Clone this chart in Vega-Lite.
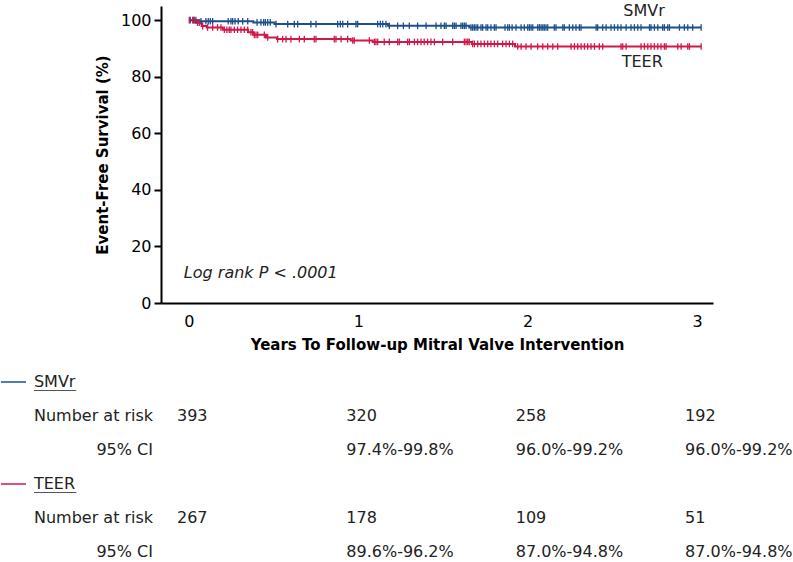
{
"$schema":"https://vega.github.io/schema/vega-lite/v6.json",
"background":"white",
"padding":{"left":0,"top":3,"right":0,"bottom":0},
"spacing":22,
"config":{"view":{"stroke":null},"font":"DejaVu Sans"},
"datasets":{
"km":[
{"g":"SMVr","t":0,"s":100,"c":0},{"g":"SMVr","t":0.06,"s":99.6,"c":0},{"g":"SMVr","t":0.38,"s":99.2,"c":0},{"g":"SMVr","t":0.505,"s":98.6,"c":0},{"g":"SMVr","t":1.175,"s":98.0,"c":0},{"g":"SMVr","t":1.655,"s":97.4,"c":0},
{"g":"SMVr","t":0.008,"s":100,"c":1},{"g":"SMVr","t":0.028,"s":100,"c":1},{"g":"SMVr","t":0.041,"s":100,"c":1},
{"g":"SMVr","t":0.071,"s":99.6,"c":1},{"g":"SMVr","t":0.1,"s":99.6,"c":1},{"g":"SMVr","t":0.114,"s":99.6,"c":1},{"g":"SMVr","t":0.126,"s":99.6,"c":1},{"g":"SMVr","t":0.14,"s":99.6,"c":1},{"g":"SMVr","t":0.232,"s":99.6,"c":1},{"g":"SMVr","t":0.248,"s":99.6,"c":1},{"g":"SMVr","t":0.258,"s":99.6,"c":1},{"g":"SMVr","t":0.272,"s":99.6,"c":1},{"g":"SMVr","t":0.291,"s":99.6,"c":1},{"g":"SMVr","t":0.317,"s":99.6,"c":1},{"g":"SMVr","t":0.347,"s":99.6,"c":1},
{"g":"SMVr","t":0.402,"s":99.2,"c":1},{"g":"SMVr","t":0.425,"s":99.2,"c":1},{"g":"SMVr","t":0.441,"s":99.2,"c":1},{"g":"SMVr","t":0.451,"s":99.2,"c":1},{"g":"SMVr","t":0.465,"s":99.2,"c":1},{"g":"SMVr","t":0.48,"s":99.2,"c":1},
{"g":"SMVr","t":0.514,"s":98.6,"c":1},{"g":"SMVr","t":0.583,"s":98.6,"c":1},{"g":"SMVr","t":0.622,"s":98.6,"c":1},{"g":"SMVr","t":0.642,"s":98.6,"c":1},{"g":"SMVr","t":0.72,"s":98.6,"c":1},{"g":"SMVr","t":0.75,"s":98.6,"c":1},{"g":"SMVr","t":0.878,"s":98.6,"c":1},{"g":"SMVr","t":0.894,"s":98.6,"c":1},{"g":"SMVr","t":0.908,"s":98.6,"c":1},{"g":"SMVr","t":0.937,"s":98.6,"c":1},{"g":"SMVr","t":0.986,"s":98.6,"c":1},{"g":"SMVr","t":0.996,"s":98.6,"c":1},{"g":"SMVr","t":1.114,"s":98.6,"c":1},{"g":"SMVr","t":1.13,"s":98.6,"c":1},{"g":"SMVr","t":1.144,"s":98.6,"c":1},{"g":"SMVr","t":1.163,"s":98.6,"c":1},
{"g":"SMVr","t":1.183,"s":98.0,"c":1},{"g":"SMVr","t":1.232,"s":98.0,"c":1},{"g":"SMVr","t":1.266,"s":98.0,"c":1},{"g":"SMVr","t":1.301,"s":98.0,"c":1},{"g":"SMVr","t":1.35,"s":98.0,"c":1},{"g":"SMVr","t":1.4,"s":98.0,"c":1},{"g":"SMVr","t":1.459,"s":98.0,"c":1},{"g":"SMVr","t":1.488,"s":98.0,"c":1},{"g":"SMVr","t":1.508,"s":98.0,"c":1},{"g":"SMVr","t":1.518,"s":98.0,"c":1},{"g":"SMVr","t":1.557,"s":98.0,"c":1},{"g":"SMVr","t":1.567,"s":98.0,"c":1},{"g":"SMVr","t":1.577,"s":98.0,"c":1},{"g":"SMVr","t":1.606,"s":98.0,"c":1},{"g":"SMVr","t":1.616,"s":98.0,"c":1},{"g":"SMVr","t":1.626,"s":98.0,"c":1},{"g":"SMVr","t":1.636,"s":98.0,"c":1},
{"g":"SMVr","t":1.665,"s":97.4,"c":1},{"g":"SMVr","t":1.675,"s":97.4,"c":1},{"g":"SMVr","t":1.685,"s":97.4,"c":1},{"g":"SMVr","t":1.695,"s":97.4,"c":1},{"g":"SMVr","t":1.705,"s":97.4,"c":1},{"g":"SMVr","t":1.724,"s":97.4,"c":1},{"g":"SMVr","t":1.734,"s":97.4,"c":1},{"g":"SMVr","t":1.754,"s":97.4,"c":1},{"g":"SMVr","t":1.764,"s":97.4,"c":1},{"g":"SMVr","t":1.783,"s":97.4,"c":1},{"g":"SMVr","t":1.803,"s":97.4,"c":1},{"g":"SMVr","t":1.813,"s":97.4,"c":1},{"g":"SMVr","t":1.866,"s":97.4,"c":1},{"g":"SMVr","t":1.882,"s":97.4,"c":1},{"g":"SMVr","t":1.892,"s":97.4,"c":1},{"g":"SMVr","t":1.908,"s":97.4,"c":1},{"g":"SMVr","t":1.931,"s":97.4,"c":1},{"g":"SMVr","t":1.961,"s":97.4,"c":1},{"g":"SMVr","t":1.98,"s":97.4,"c":1},{"g":"SMVr","t":2.0,"s":97.4,"c":1},{"g":"SMVr","t":2.01,"s":97.4,"c":1},{"g":"SMVr","t":2.02,"s":97.4,"c":1},{"g":"SMVr","t":2.03,"s":97.4,"c":1},{"g":"SMVr","t":2.059,"s":97.4,"c":1},{"g":"SMVr","t":2.069,"s":97.4,"c":1},{"g":"SMVr","t":2.079,"s":97.4,"c":1},{"g":"SMVr","t":2.089,"s":97.4,"c":1},{"g":"SMVr","t":2.098,"s":97.4,"c":1},{"g":"SMVr","t":2.108,"s":97.4,"c":1},{"g":"SMVr","t":2.118,"s":97.4,"c":1},{"g":"SMVr","t":2.157,"s":97.4,"c":1},{"g":"SMVr","t":2.167,"s":97.4,"c":1},{"g":"SMVr","t":2.207,"s":97.4,"c":1},{"g":"SMVr","t":2.216,"s":97.4,"c":1},{"g":"SMVr","t":2.246,"s":97.4,"c":1},{"g":"SMVr","t":2.266,"s":97.4,"c":1},{"g":"SMVr","t":2.285,"s":97.4,"c":1},{"g":"SMVr","t":2.305,"s":97.4,"c":1},{"g":"SMVr","t":2.315,"s":97.4,"c":1},{"g":"SMVr","t":2.404,"s":97.4,"c":1},{"g":"SMVr","t":2.413,"s":97.4,"c":1},{"g":"SMVr","t":2.443,"s":97.4,"c":1},{"g":"SMVr","t":2.463,"s":97.4,"c":1},{"g":"SMVr","t":2.492,"s":97.4,"c":1},{"g":"SMVr","t":2.512,"s":97.4,"c":1},{"g":"SMVr","t":2.532,"s":97.4,"c":1},{"g":"SMVr","t":2.551,"s":97.4,"c":1},{"g":"SMVr","t":2.581,"s":97.4,"c":1},{"g":"SMVr","t":2.61,"s":97.4,"c":1},{"g":"SMVr","t":2.63,"s":97.4,"c":1},{"g":"SMVr","t":2.65,"s":97.4,"c":1},{"g":"SMVr","t":2.669,"s":97.4,"c":1},{"g":"SMVr","t":2.719,"s":97.4,"c":1},{"g":"SMVr","t":2.728,"s":97.4,"c":1},{"g":"SMVr","t":2.748,"s":97.4,"c":1},{"g":"SMVr","t":2.768,"s":97.4,"c":1},{"g":"SMVr","t":2.797,"s":97.4,"c":1},{"g":"SMVr","t":2.807,"s":97.4,"c":1},{"g":"SMVr","t":2.827,"s":97.4,"c":1},{"g":"SMVr","t":2.837,"s":97.4,"c":1},{"g":"SMVr","t":2.896,"s":97.4,"c":1},{"g":"SMVr","t":2.925,"s":97.4,"c":1},{"g":"SMVr","t":2.945,"s":97.4,"c":1},{"g":"SMVr","t":2.974,"s":97.4,"c":1},{"g":"SMVr","t":3.024,"s":97.4,"c":1},
{"g":"TEER","t":0,"s":100,"c":0},{"g":"TEER","t":0.04,"s":99.1,"c":0},{"g":"TEER","t":0.075,"s":97.9,"c":0},{"g":"TEER","t":0.105,"s":97.4,"c":0},{"g":"TEER","t":0.2,"s":96.6,"c":0},{"g":"TEER","t":0.35,"s":95.7,"c":0},{"g":"TEER","t":0.38,"s":94.8,"c":0},{"g":"TEER","t":0.455,"s":93.9,"c":0},{"g":"TEER","t":0.52,"s":93.3,"c":0},{"g":"TEER","t":0.955,"s":92.8,"c":0},{"g":"TEER","t":1.085,"s":92.3,"c":0},{"g":"TEER","t":1.67,"s":91.6,"c":0},{"g":"TEER","t":1.925,"s":90.7,"c":0},
{"g":"TEER","t":0.002,"s":100,"c":1},{"g":"TEER","t":0.022,"s":100,"c":1},{"g":"TEER","t":0.031,"s":100,"c":1},
{"g":"TEER","t":0.051,"s":99.1,"c":1},{"g":"TEER","t":0.061,"s":99.1,"c":1},
{"g":"TEER","t":0.081,"s":97.9,"c":1},
{"g":"TEER","t":0.11,"s":97.4,"c":1},{"g":"TEER","t":0.14,"s":97.4,"c":1},{"g":"TEER","t":0.169,"s":97.4,"c":1},{"g":"TEER","t":0.189,"s":97.4,"c":1},
{"g":"TEER","t":0.209,"s":96.6,"c":1},{"g":"TEER","t":0.224,"s":96.6,"c":1},{"g":"TEER","t":0.238,"s":96.6,"c":1},{"g":"TEER","t":0.248,"s":96.6,"c":1},{"g":"TEER","t":0.268,"s":96.6,"c":1},{"g":"TEER","t":0.287,"s":96.6,"c":1},{"g":"TEER","t":0.307,"s":96.6,"c":1},{"g":"TEER","t":0.327,"s":96.6,"c":1},{"g":"TEER","t":0.347,"s":96.6,"c":1},
{"g":"TEER","t":0.366,"s":95.7,"c":1},{"g":"TEER","t":0.376,"s":95.7,"c":1},
{"g":"TEER","t":0.386,"s":94.8,"c":1},{"g":"TEER","t":0.396,"s":94.8,"c":1},{"g":"TEER","t":0.406,"s":94.8,"c":1},{"g":"TEER","t":0.445,"s":94.8,"c":1},
{"g":"TEER","t":0.465,"s":93.9,"c":1},
{"g":"TEER","t":0.524,"s":93.3,"c":1},{"g":"TEER","t":0.553,"s":93.3,"c":1},{"g":"TEER","t":0.573,"s":93.3,"c":1},{"g":"TEER","t":0.602,"s":93.3,"c":1},{"g":"TEER","t":0.652,"s":93.3,"c":1},{"g":"TEER","t":0.681,"s":93.3,"c":1},{"g":"TEER","t":0.74,"s":93.3,"c":1},{"g":"TEER","t":0.75,"s":93.3,"c":1},{"g":"TEER","t":0.858,"s":93.3,"c":1},{"g":"TEER","t":0.868,"s":93.3,"c":1},{"g":"TEER","t":0.898,"s":93.3,"c":1},{"g":"TEER","t":0.937,"s":93.3,"c":1},
{"g":"TEER","t":0.967,"s":92.8,"c":1},{"g":"TEER","t":0.976,"s":92.8,"c":1},{"g":"TEER","t":1.065,"s":92.8,"c":1},
{"g":"TEER","t":1.095,"s":92.3,"c":1},{"g":"TEER","t":1.104,"s":92.3,"c":1},{"g":"TEER","t":1.114,"s":92.3,"c":1},{"g":"TEER","t":1.153,"s":92.3,"c":1},{"g":"TEER","t":1.183,"s":92.3,"c":1},{"g":"TEER","t":1.232,"s":92.3,"c":1},{"g":"TEER","t":1.242,"s":92.3,"c":1},{"g":"TEER","t":1.291,"s":92.3,"c":1},{"g":"TEER","t":1.301,"s":92.3,"c":1},{"g":"TEER","t":1.331,"s":92.3,"c":1},{"g":"TEER","t":1.35,"s":92.3,"c":1},{"g":"TEER","t":1.37,"s":92.3,"c":1},{"g":"TEER","t":1.389,"s":92.3,"c":1},{"g":"TEER","t":1.409,"s":92.3,"c":1},{"g":"TEER","t":1.429,"s":92.3,"c":1},{"g":"TEER","t":1.449,"s":92.3,"c":1},{"g":"TEER","t":1.498,"s":92.3,"c":1},{"g":"TEER","t":1.557,"s":92.3,"c":1},{"g":"TEER","t":1.626,"s":92.3,"c":1},{"g":"TEER","t":1.636,"s":92.3,"c":1},{"g":"TEER","t":1.646,"s":92.3,"c":1},{"g":"TEER","t":1.655,"s":92.3,"c":1},
{"g":"TEER","t":1.675,"s":91.6,"c":1},{"g":"TEER","t":1.685,"s":91.6,"c":1},{"g":"TEER","t":1.705,"s":91.6,"c":1},{"g":"TEER","t":1.724,"s":91.6,"c":1},{"g":"TEER","t":1.744,"s":91.6,"c":1},{"g":"TEER","t":1.764,"s":91.6,"c":1},{"g":"TEER","t":1.783,"s":91.6,"c":1},{"g":"TEER","t":1.803,"s":91.6,"c":1},{"g":"TEER","t":1.823,"s":91.6,"c":1},{"g":"TEER","t":1.852,"s":91.6,"c":1},{"g":"TEER","t":1.872,"s":91.6,"c":1},{"g":"TEER","t":1.892,"s":91.6,"c":1},{"g":"TEER","t":1.911,"s":91.6,"c":1},
{"g":"TEER","t":1.941,"s":90.7,"c":1},{"g":"TEER","t":1.961,"s":90.7,"c":1},{"g":"TEER","t":1.99,"s":90.7,"c":1},{"g":"TEER","t":2.02,"s":90.7,"c":1},{"g":"TEER","t":2.059,"s":90.7,"c":1},{"g":"TEER","t":2.089,"s":90.7,"c":1},{"g":"TEER","t":2.118,"s":90.7,"c":1},{"g":"TEER","t":2.148,"s":90.7,"c":1},{"g":"TEER","t":2.177,"s":90.7,"c":1},{"g":"TEER","t":2.256,"s":90.7,"c":1},{"g":"TEER","t":2.276,"s":90.7,"c":1},{"g":"TEER","t":2.295,"s":90.7,"c":1},{"g":"TEER","t":2.315,"s":90.7,"c":1},{"g":"TEER","t":2.335,"s":90.7,"c":1},{"g":"TEER","t":2.354,"s":90.7,"c":1},{"g":"TEER","t":2.374,"s":90.7,"c":1},{"g":"TEER","t":2.394,"s":90.7,"c":1},{"g":"TEER","t":2.423,"s":90.7,"c":1},{"g":"TEER","t":2.443,"s":90.7,"c":1},{"g":"TEER","t":2.551,"s":90.7,"c":1},{"g":"TEER","t":2.561,"s":90.7,"c":1},{"g":"TEER","t":2.581,"s":90.7,"c":1},{"g":"TEER","t":2.669,"s":90.7,"c":1},{"g":"TEER","t":2.689,"s":90.7,"c":1},{"g":"TEER","t":2.709,"s":90.7,"c":1},{"g":"TEER","t":2.728,"s":90.7,"c":1},{"g":"TEER","t":2.748,"s":90.7,"c":1},{"g":"TEER","t":2.768,"s":90.7,"c":1},{"g":"TEER","t":2.787,"s":90.7,"c":1},{"g":"TEER","t":2.807,"s":90.7,"c":1},{"g":"TEER","t":2.817,"s":90.7,"c":1},{"g":"TEER","t":2.886,"s":90.7,"c":1},{"g":"TEER","t":2.906,"s":90.7,"c":1},{"g":"TEER","t":2.945,"s":90.7,"c":1},{"g":"TEER","t":2.955,"s":90.7,"c":1},{"g":"TEER","t":3.024,"s":90.7,"c":1}
],
"table":[
{"row":"SMVr head","k":"head","g":"SMVr","txt":"SMVr"},
{"row":"SMVr n","k":"nlab","txt":"Number at risk"},
{"row":"SMVr ci","k":"cilab","txt":"95% CI"},
{"row":"SMVr n","k":"val","t":0,"txt":"393"},{"row":"SMVr n","k":"val","t":1,"txt":"320"},{"row":"SMVr n","k":"val","t":2,"txt":"258"},{"row":"SMVr n","k":"val","t":3,"txt":"192"},
{"row":"SMVr ci","k":"val","t":1,"txt":"97.4%-99.8%"},{"row":"SMVr ci","k":"val","t":2,"txt":"96.0%-99.2%"},{"row":"SMVr ci","k":"val","t":3,"txt":"96.0%-99.2%"},
{"row":"TEER head","k":"head","g":"TEER","txt":"TEER"},
{"row":"TEER n","k":"nlab","txt":"Number at risk"},
{"row":"TEER ci","k":"cilab","txt":"95% CI"},
{"row":"TEER n","k":"val","t":0,"txt":"267"},{"row":"TEER n","k":"val","t":1,"txt":"178"},{"row":"TEER n","k":"val","t":2,"txt":"109"},{"row":"TEER n","k":"val","t":3,"txt":"51"},
{"row":"TEER ci","k":"val","t":1,"txt":"89.6%-96.2%"},{"row":"TEER ci","k":"val","t":2,"txt":"87.0%-94.8%"},{"row":"TEER ci","k":"val","t":3,"txt":"87.0%-94.8%"}
]
},
"vconcat":[
{
"width":552,"height":297,
"data":{"name":"km"},
"layer":[
{"mark":{"type":"line","interpolate":"step-after","strokeWidth":2},
 "encoding":{
  "x":{"field":"t","type":"quantitative","scale":{"domain":[-0.165,3.094],"nice":false,"zero":false},
   "axis":{"values":[0,1,2,3],"format":"d","title":"Years To Follow-up Mitral Valve Intervention","ticks":false,"grid":false,"domainColor":"black","domainWidth":2,"labelFontSize":16,"labelColor":"black","labelPadding":10,"titleFontSize":15,"titleFontWeight":"bold","titleColor":"black","titlePadding":8,"labelFont":"DejaVu Sans","titleFont":"DejaVu Sans"}},
  "y":{"field":"s","type":"quantitative","scale":{"domain":[0,105],"nice":false},
   "axis":{"values":[0,20,40,60,80,100],"title":"Event-Free Survival (%)","grid":false,"domainColor":"black","domainWidth":2,"tickColor":"black","tickWidth":2,"tickSize":7,"labelFontSize":16,"labelColor":"black","labelPadding":3,"titleFontSize":15,"titleFontWeight":"bold","titleColor":"black","titlePadding":10,"labelFont":"DejaVu Sans","titleFont":"DejaVu Sans"}},
  "color":{"field":"g","type":"nominal","scale":{"domain":["SMVr","TEER"],"range":["#1c4f8b","#d0184a"]},"legend":null}
 }},
{"transform":[{"filter":"datum.c == 1"}],
 "mark":{"type":"point","shape":"M0,-1L0,1","filled":false,"strokeWidth":1.3,"size":44,"opacity":1},
 "encoding":{
  "x":{"field":"t","type":"quantitative"},
  "y":{"field":"s","type":"quantitative"},
  "color":{"field":"g","type":"nominal","legend":null}
 }},
{"data":{"values":[{}]},
 "mark":{"type":"text","fontSize":16,"align":"center","baseline":"middle","color":"#222"},
 "encoding":{"x":{"datum":2.687},"y":{"datum":103.2},"text":{"value":"SMVr"}}},
{"data":{"values":[{}]},
 "mark":{"type":"text","fontSize":16,"align":"center","baseline":"middle","color":"#222"},
 "encoding":{"x":{"datum":2.676},"y":{"datum":85.2},"text":{"value":"TEER"}}},
{"data":{"values":[{}]},
 "mark":{"type":"text","fontSize":16,"fontStyle":"italic","align":"left","baseline":"middle","color":"#222"},
 "encoding":{"x":{"datum":-0.03},"y":{"datum":10.6},"text":{"value":"Log rank P < .0001"}}}
]
},
{
"width":552,"height":170,
"data":{"name":"table"},
"encoding":{"y":{"field":"row","type":"ordinal","scale":{"type":"point","domain":["SMVr head","SMVr n","SMVr ci","TEER head","TEER n","TEER ci"],"padding":0},"axis":null}},
"layer":[
{"transform":[{"filter":"datum.k == 'val'"}],
 "mark":{"type":"text","fontSize":16,"align":"left","baseline":"middle","dx":-12,"color":"#222"},
 "encoding":{"x":{"field":"t","type":"quantitative","scale":{"domain":[-0.165,3.094],"nice":false,"zero":false},"axis":null},"text":{"field":"txt"}}},
{"transform":[{"filter":"datum.k == 'nlab' || datum.k == 'head'"}],
 "mark":{"type":"text","fontSize":16,"align":"left","baseline":"middle","color":"#222"},
 "encoding":{"x":{"datum":-0.915},"text":{"field":"txt"}}},
{"transform":[{"filter":"datum.k == 'cilab'"}],
 "mark":{"type":"text","fontSize":16,"align":"right","baseline":"middle","color":"#222"},
 "encoding":{"x":{"datum":-0.2125},"text":{"field":"txt"}}},
{"transform":[{"filter":"datum.k == 'head'"}],
 "mark":{"type":"rule","strokeWidth":1,"color":"#555","yOffset":8.5},
 "encoding":{"x":{"datum":-0.915},"x2":{"datum":-0.665}}},
{"transform":[{"filter":"datum.k == 'head'"}],
 "mark":{"type":"rule","strokeWidth":1.5},
 "encoding":{"x":{"datum":-1.11},"x2":{"datum":-0.962},"color":{"field":"g","type":"nominal","scale":{"domain":["SMVr","TEER"],"range":["#1c4f8b","#d0184a"]},"legend":null}}}
]
}
]
}
